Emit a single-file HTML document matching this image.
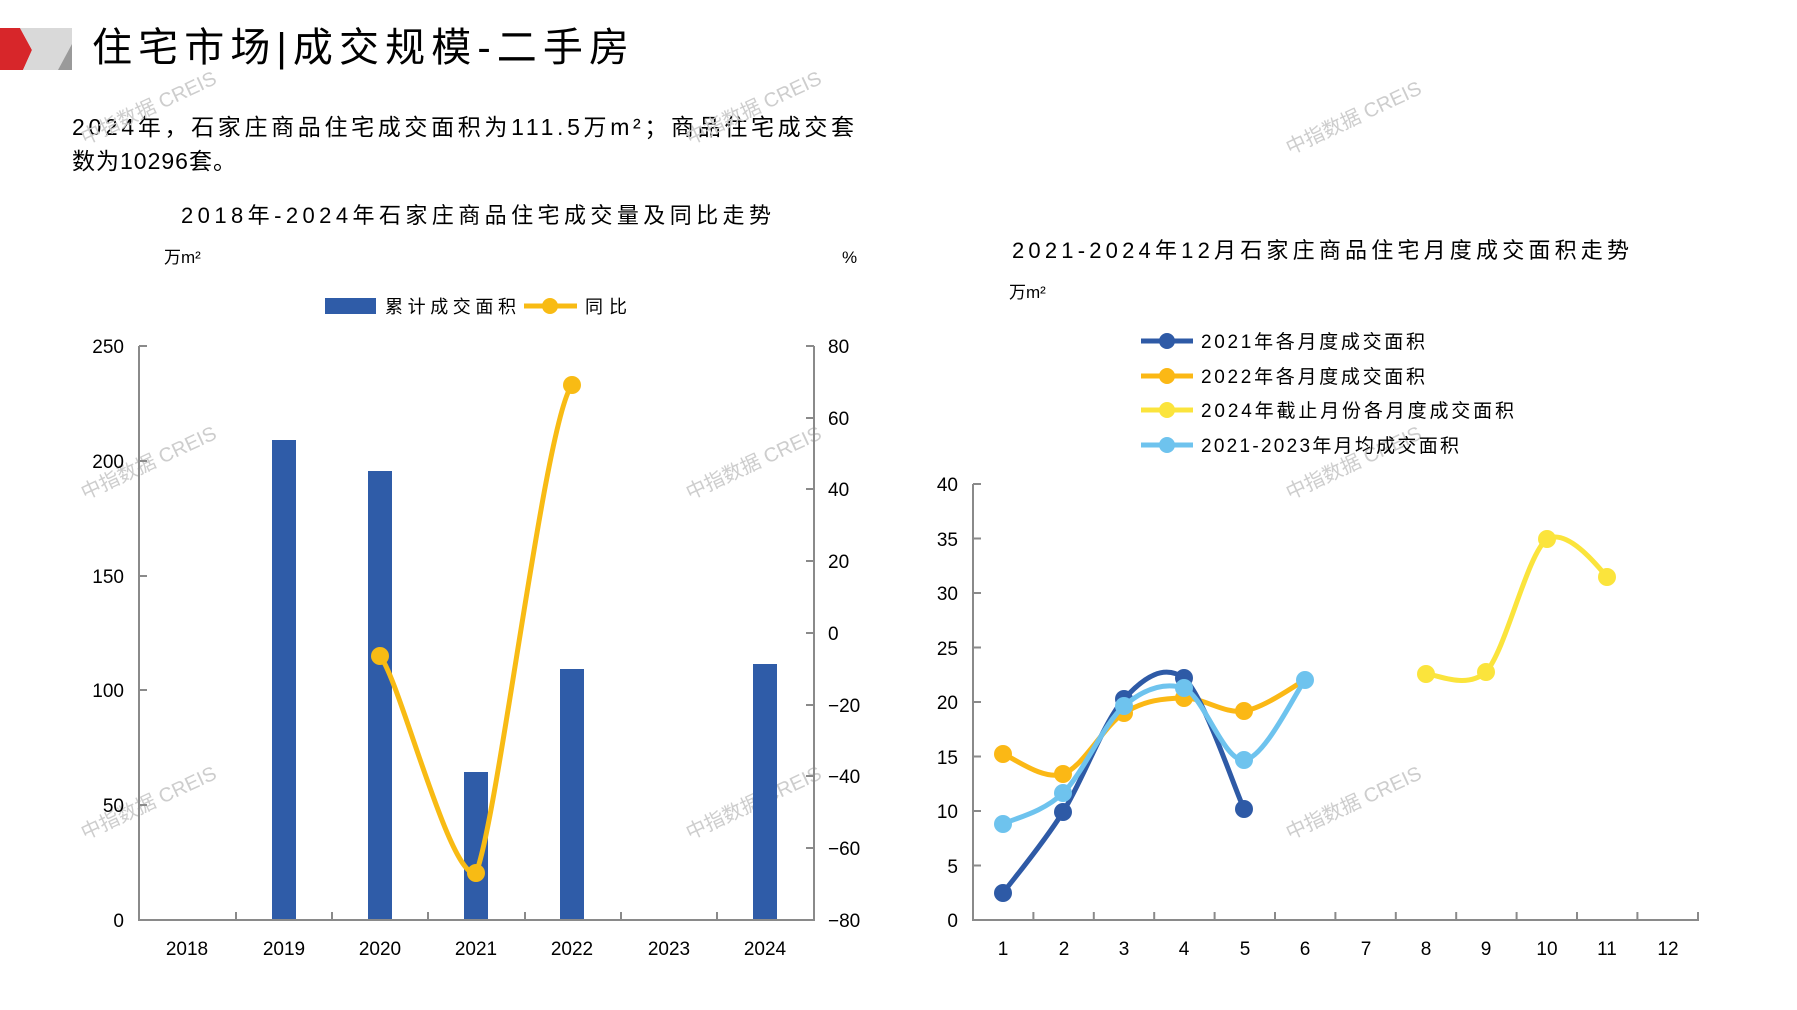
<!DOCTYPE html>
<html><head><meta charset="utf-8">
<style>
html,body{margin:0;padding:0;background:#fff;}
svg{display:block;}
text{font-family:"Liberation Sans","Noto Sans CJK SC",sans-serif;fill:#000;}
.wm text{fill:#cdcdcd;font-size:20px;}
.tk{font-size:19px;}
</style></head><body>
<svg width="1797" height="1010" viewBox="0 0 1797 1010" xmlns="http://www.w3.org/2000/svg">
<polygon points="0,28 20,28 32,50 23,70 0,70" fill="#d7262a"/>
<polygon points="20,28 72,28 72,70 23,70 32,50" fill="#d9d9d9"/>
<polygon points="72,44 72,70 58,70" fill="#9a9a9a"/>
<text x="92" y="61" font-size="40" textLength="537" lengthAdjust="spacing">住宅市场|成交规模-二手房</text>

<text x="72" y="135" font-size="23" textLength="782" lengthAdjust="spacing">2024年，石家庄商品住宅成交面积为111.5万m²；商品住宅成交套</text>
<text x="72" y="169" font-size="23" letter-spacing="1">数为10296套。</text>

<g class="wm">
<text transform="translate(85,145) rotate(-25)">中指数据 CREIS</text>
<text transform="translate(690,145) rotate(-25)">中指数据 CREIS</text>
<text transform="translate(1290,155) rotate(-25)">中指数据 CREIS</text>
<text transform="translate(85,500) rotate(-25)">中指数据 CREIS</text>
<text transform="translate(690,500) rotate(-25)">中指数据 CREIS</text>
<text transform="translate(1290,500) rotate(-25)">中指数据 CREIS</text>
<text transform="translate(85,840) rotate(-25)">中指数据 CREIS</text>
<text transform="translate(690,840) rotate(-25)">中指数据 CREIS</text>
<text transform="translate(1290,840) rotate(-25)">中指数据 CREIS</text>
</g>

<!-- LEFT CHART -->
<text x="181" y="223" font-size="22" textLength="590" lengthAdjust="spacing">2018年-2024年石家庄商品住宅成交量及同比走势</text>
<text x="164" y="263" font-size="17">万m²</text>
<text x="842" y="263" font-size="17">%</text>
<rect x="325" y="298" width="51" height="16" fill="#2f5ca8"/>
<text x="385" y="313" font-size="18" textLength="131" lengthAdjust="spacing">累计成交面积</text>
<line x1="524" y1="306" x2="577" y2="306" stroke="#f8bb14" stroke-width="5"/>
<circle cx="550" cy="306" r="8" fill="#f8bb14"/>
<text x="585" y="313" font-size="18" textLength="42" lengthAdjust="spacing">同比</text>

<g fill="#2f5ca8">
<rect x="272" y="440" width="24" height="480"/>
<rect x="368" y="471" width="24" height="449"/>
<rect x="464" y="772" width="24" height="148"/>
<rect x="560" y="669" width="24" height="251"/>
<rect x="753" y="664" width="24" height="256"/>
</g>
<g stroke="#8a8a8a" stroke-width="2" fill="none">
<line x1="139" y1="346" x2="139" y2="921"/>
<line x1="814" y1="346" x2="814" y2="921"/>
<line x1="138" y1="920" x2="815" y2="920"/>
<path d="M139 346h8M139 461h8M139 576h8M139 690h8M139 805h8"/>
<path d="M814 346h-8M814 418h-8M814 489h-8M814 561h-8M814 633h-8M814 705h-8M814 776h-8M814 848h-8"/>
<path d="M236 920v-8M332 920v-8M428 920v-8M525 920v-8M621 920v-8M717 920v-8"/>
</g>
<g class="tk" text-anchor="end">
<text x="124" y="353">250</text><text x="124" y="468">200</text><text x="124" y="583">150</text>
<text x="124" y="697">100</text><text x="124" y="812">50</text><text x="124" y="927">0</text>
</g>
<g class="tk">
<text x="828" y="353">80</text><text x="828" y="425">60</text><text x="828" y="496">40</text>
<text x="828" y="568">20</text><text x="828" y="640">0</text><text x="828" y="712">−20</text>
<text x="828" y="783">−40</text><text x="828" y="855">−60</text><text x="828" y="927">−80</text>
</g>
<g class="tk" text-anchor="middle">
<text x="187" y="955">2018</text><text x="284" y="955">2019</text><text x="380" y="955">2020</text>
<text x="476" y="955">2021</text><text x="572" y="955">2022</text><text x="669" y="955">2023</text><text x="765" y="955">2024</text>
</g>
<path d="M380 656 C400 680 450 880 476 873 C498 820 545 420 572 385" stroke="#f8bb14" stroke-width="5" fill="none"/>
<g fill="#f8bb14"><circle cx="380" cy="656" r="9"/><circle cx="476" cy="873" r="9"/><circle cx="572" cy="385" r="9"/></g>

<!-- RIGHT CHART -->
<text x="1012" y="258" font-size="22" textLength="617" lengthAdjust="spacing">2021-2024年12月石家庄商品住宅月度成交面积走势</text>
<text x="1009" y="298" font-size="17">万m²</text>
<g font-size="19">
<line x1="1141" y1="341" x2="1193" y2="341" stroke="#2e5aa6" stroke-width="5"/><circle cx="1167" cy="341" r="8" fill="#2e5aa6"/>
<text x="1201" y="348" textLength="224" lengthAdjust="spacing">2021年各月度成交面积</text>
<line x1="1141" y1="376" x2="1193" y2="376" stroke="#fbb815" stroke-width="5"/><circle cx="1167" cy="376" r="8" fill="#fbb815"/>
<text x="1201" y="383" textLength="224" lengthAdjust="spacing">2022年各月度成交面积</text>
<line x1="1141" y1="410" x2="1193" y2="410" stroke="#fbe43c" stroke-width="5"/><circle cx="1167" cy="410" r="8" fill="#fbe43c"/>
<text x="1201" y="417" textLength="313" lengthAdjust="spacing">2024年截止月份各月度成交面积</text>
<line x1="1141" y1="445" x2="1193" y2="445" stroke="#6ec3ee" stroke-width="5"/><circle cx="1167" cy="445" r="8" fill="#6ec3ee"/>
<text x="1201" y="452" textLength="258" lengthAdjust="spacing">2021-2023年月均成交面积</text>
</g>
<g stroke="#8a8a8a" stroke-width="2" fill="none">
<line x1="973" y1="484" x2="973" y2="921"/>
<line x1="972" y1="920" x2="1699" y2="920"/>
<path d="M973 484h8M973 538.5h8M973 593h8M973 647.5h8M973 702h8M973 756.5h8M973 811h8M973 865.5h8"/>
<path d="M1033.4 920v-8M1093.8 920v-8M1154.2 920v-8M1214.6 920v-8M1275 920v-8M1335.4 920v-8M1395.8 920v-8M1456.2 920v-8M1516.6 920v-8M1577 920v-8M1637.4 920v-8M1698 920v-8"/>
</g>
<g class="tk" text-anchor="end">
<text x="958" y="491">40</text><text x="958" y="546">35</text><text x="958" y="600">30</text>
<text x="958" y="655">25</text><text x="958" y="709">20</text><text x="958" y="764">15</text>
<text x="958" y="818">10</text><text x="958" y="873">5</text><text x="958" y="927">0</text>
</g>
<g class="tk" text-anchor="middle">
<text x="1003" y="955">1</text><text x="1064" y="955">2</text><text x="1124" y="955">3</text><text x="1184" y="955">4</text>
<text x="1245" y="955">5</text><text x="1305" y="955">6</text><text x="1366" y="955">7</text><text x="1426" y="955">8</text>
<text x="1486" y="955">9</text><text x="1547" y="955">10</text><text x="1607" y="955">11</text><text x="1668" y="955">12</text>
</g>
<path d="M1003 754 C1013 757.3 1042.8 780.8 1063 774 C1083.2 767.2 1103.8 725.7 1124 713 C1144.2 700.3 1164 698.3 1184 698 C1204 697.7 1223.8 714 1244 711 C1264.2 708 1295 685.2 1305 680" stroke="#fbb815" stroke-width="5" fill="none"/>
<g fill="#fbb815"><circle cx="1003" cy="754" r="9"/><circle cx="1063" cy="774" r="9"/><circle cx="1124" cy="713" r="9"/><circle cx="1184" cy="698" r="9"/><circle cx="1244" cy="711" r="9"/></g>
<path d="M1003 893 C1013 879.5 1042.8 844.3 1063 812 C1083.2 779.7 1103.8 721.3 1124 699 C1144.2 676.7 1164 664 1184 678 C1204 696.3 1234 787.2 1244 809" stroke="#2e5aa6" stroke-width="5" fill="none"/>
<g fill="#2e5aa6"><circle cx="1003" cy="893" r="9"/><circle cx="1063" cy="812" r="9"/><circle cx="1124" cy="699" r="9"/><circle cx="1184" cy="678" r="9"/><circle cx="1244" cy="809" r="9"/></g>
<path d="M1003 824 C1013 818.8 1042.8 812.7 1063 793 C1083.2 773.3 1103.8 723.5 1124 706 C1144.2 688.5 1164 682 1184 688 C1204 697 1223.8 761.3 1244 760 C1264.2 758.7 1295 693.3 1305 680" stroke="#6ec3ee" stroke-width="5" fill="none"/>
<g fill="#6ec3ee"><circle cx="1003" cy="824" r="9"/><circle cx="1063" cy="793" r="9"/><circle cx="1124" cy="706" r="9"/><circle cx="1184" cy="688" r="9"/><circle cx="1244" cy="760" r="9"/><circle cx="1305" cy="680" r="9"/></g>
<path d="M1426 674 C1436 673.7 1465.8 690 1486 672 C1506.2 649.5 1526.8 554.8 1547 539 C1567.2 528 1597 565 1607 577" stroke="#fbe43c" stroke-width="5" fill="none"/>
<g fill="#fbe43c"><circle cx="1426" cy="674" r="9"/><circle cx="1486" cy="672" r="9"/><circle cx="1547" cy="539" r="9"/><circle cx="1607" cy="577" r="9"/></g>
</svg>
</body></html>
